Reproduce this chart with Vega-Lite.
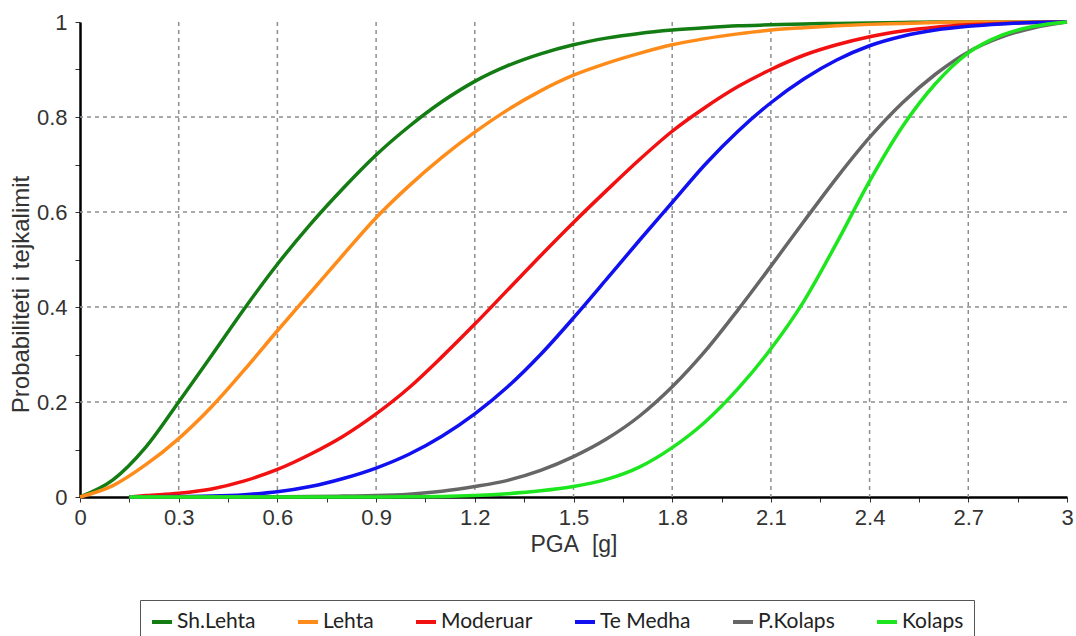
{
  "$schema": "https://vega.github.io/schema/vega-lite/v6.json",
  "width": 987,
  "height": 475,
  "autosize": {"type": "none"},
  "padding": {"left": 80, "top": 22, "right": 9, "bottom": 139},
  "background": "white",
  "config": {"view": {"stroke": null}, "font": "Liberation Sans"},
  "datasets": {
    "gx": [{"pga": 0.3}, {"pga": 0.6}, {"pga": 0.9}, {"pga": 1.2}, {"pga": 1.5}, {"pga": 1.8}, {"pga": 2.1}, {"pga": 2.4}, {"pga": 2.7}],
    "gy": [{"p": 0.2}, {"p": 0.4}, {"p": 0.6}, {"p": 0.8}],
    "curves": [
      {"s": "Sh.Lehta", "pga": 0, "p": 0}, {"s": "Sh.Lehta", "pga": 0.1, "p": 0.036}, {"s": "Sh.Lehta", "pga": 0.2, "p": 0.105}, {"s": "Sh.Lehta", "pga": 0.3, "p": 0.2}, {"s": "Sh.Lehta", "pga": 0.4, "p": 0.298}, {"s": "Sh.Lehta", "pga": 0.5, "p": 0.397}, {"s": "Sh.Lehta", "pga": 0.6, "p": 0.49}, {"s": "Sh.Lehta", "pga": 0.7, "p": 0.574}, {"s": "Sh.Lehta", "pga": 0.8, "p": 0.65}, {"s": "Sh.Lehta", "pga": 0.9, "p": 0.72}, {"s": "Sh.Lehta", "pga": 1.0, "p": 0.78}, {"s": "Sh.Lehta", "pga": 1.1, "p": 0.832}, {"s": "Sh.Lehta", "pga": 1.2, "p": 0.875}, {"s": "Sh.Lehta", "pga": 1.3, "p": 0.908}, {"s": "Sh.Lehta", "pga": 1.4, "p": 0.933}, {"s": "Sh.Lehta", "pga": 1.5, "p": 0.952}, {"s": "Sh.Lehta", "pga": 1.6, "p": 0.966}, {"s": "Sh.Lehta", "pga": 1.7, "p": 0.976}, {"s": "Sh.Lehta", "pga": 1.8, "p": 0.983}, {"s": "Sh.Lehta", "pga": 1.9, "p": 0.988}, {"s": "Sh.Lehta", "pga": 2.0, "p": 0.992}, {"s": "Sh.Lehta", "pga": 2.1, "p": 0.994}, {"s": "Sh.Lehta", "pga": 2.2, "p": 0.996}, {"s": "Sh.Lehta", "pga": 2.3, "p": 0.997}, {"s": "Sh.Lehta", "pga": 2.4, "p": 0.998}, {"s": "Sh.Lehta", "pga": 2.5, "p": 0.999}, {"s": "Sh.Lehta", "pga": 2.6, "p": 1}, {"s": "Sh.Lehta", "pga": 2.8, "p": 1}, {"s": "Sh.Lehta", "pga": 3.0, "p": 1},
      {"s": "Lehta", "pga": 0, "p": 0}, {"s": "Lehta", "pga": 0.1, "p": 0.024}, {"s": "Lehta", "pga": 0.2, "p": 0.068}, {"s": "Lehta", "pga": 0.3, "p": 0.123}, {"s": "Lehta", "pga": 0.4, "p": 0.19}, {"s": "Lehta", "pga": 0.5, "p": 0.268}, {"s": "Lehta", "pga": 0.6, "p": 0.35}, {"s": "Lehta", "pga": 0.7, "p": 0.43}, {"s": "Lehta", "pga": 0.8, "p": 0.51}, {"s": "Lehta", "pga": 0.9, "p": 0.588}, {"s": "Lehta", "pga": 1.0, "p": 0.655}, {"s": "Lehta", "pga": 1.1, "p": 0.715}, {"s": "Lehta", "pga": 1.2, "p": 0.768}, {"s": "Lehta", "pga": 1.3, "p": 0.815}, {"s": "Lehta", "pga": 1.4, "p": 0.855}, {"s": "Lehta", "pga": 1.5, "p": 0.888}, {"s": "Lehta", "pga": 1.6, "p": 0.913}, {"s": "Lehta", "pga": 1.7, "p": 0.934}, {"s": "Lehta", "pga": 1.8, "p": 0.952}, {"s": "Lehta", "pga": 1.9, "p": 0.965}, {"s": "Lehta", "pga": 2.0, "p": 0.975}, {"s": "Lehta", "pga": 2.1, "p": 0.983}, {"s": "Lehta", "pga": 2.2, "p": 0.988}, {"s": "Lehta", "pga": 2.3, "p": 0.992}, {"s": "Lehta", "pga": 2.4, "p": 0.995}, {"s": "Lehta", "pga": 2.5, "p": 0.997}, {"s": "Lehta", "pga": 2.6, "p": 0.999}, {"s": "Lehta", "pga": 2.7, "p": 1}, {"s": "Lehta", "pga": 3.0, "p": 1},
      {"s": "Moderuar", "pga": 0.15, "p": 0}, {"s": "Moderuar", "pga": 0.2, "p": 0.003}, {"s": "Moderuar", "pga": 0.3, "p": 0.008}, {"s": "Moderuar", "pga": 0.4, "p": 0.017}, {"s": "Moderuar", "pga": 0.5, "p": 0.034}, {"s": "Moderuar", "pga": 0.6, "p": 0.058}, {"s": "Moderuar", "pga": 0.7, "p": 0.09}, {"s": "Moderuar", "pga": 0.8, "p": 0.128}, {"s": "Moderuar", "pga": 0.9, "p": 0.175}, {"s": "Moderuar", "pga": 1.0, "p": 0.23}, {"s": "Moderuar", "pga": 1.1, "p": 0.295}, {"s": "Moderuar", "pga": 1.2, "p": 0.364}, {"s": "Moderuar", "pga": 1.3, "p": 0.436}, {"s": "Moderuar", "pga": 1.4, "p": 0.508}, {"s": "Moderuar", "pga": 1.5, "p": 0.578}, {"s": "Moderuar", "pga": 1.6, "p": 0.645}, {"s": "Moderuar", "pga": 1.7, "p": 0.71}, {"s": "Moderuar", "pga": 1.8, "p": 0.77}, {"s": "Moderuar", "pga": 1.9, "p": 0.82}, {"s": "Moderuar", "pga": 2.0, "p": 0.864}, {"s": "Moderuar", "pga": 2.1, "p": 0.9}, {"s": "Moderuar", "pga": 2.2, "p": 0.93}, {"s": "Moderuar", "pga": 2.3, "p": 0.952}, {"s": "Moderuar", "pga": 2.4, "p": 0.969}, {"s": "Moderuar", "pga": 2.5, "p": 0.981}, {"s": "Moderuar", "pga": 2.6, "p": 0.989}, {"s": "Moderuar", "pga": 2.7, "p": 0.994}, {"s": "Moderuar", "pga": 2.8, "p": 0.997}, {"s": "Moderuar", "pga": 2.9, "p": 0.999}, {"s": "Moderuar", "pga": 3.0, "p": 1},
      {"s": "Te Medha", "pga": 0.15, "p": 0}, {"s": "Te Medha", "pga": 0.3, "p": 0.001}, {"s": "Te Medha", "pga": 0.4, "p": 0.002}, {"s": "Te Medha", "pga": 0.5, "p": 0.005}, {"s": "Te Medha", "pga": 0.6, "p": 0.011}, {"s": "Te Medha", "pga": 0.7, "p": 0.022}, {"s": "Te Medha", "pga": 0.8, "p": 0.039}, {"s": "Te Medha", "pga": 0.9, "p": 0.061}, {"s": "Te Medha", "pga": 1.0, "p": 0.09}, {"s": "Te Medha", "pga": 1.1, "p": 0.128}, {"s": "Te Medha", "pga": 1.2, "p": 0.175}, {"s": "Te Medha", "pga": 1.3, "p": 0.232}, {"s": "Te Medha", "pga": 1.4, "p": 0.3}, {"s": "Te Medha", "pga": 1.5, "p": 0.377}, {"s": "Te Medha", "pga": 1.6, "p": 0.458}, {"s": "Te Medha", "pga": 1.7, "p": 0.54}, {"s": "Te Medha", "pga": 1.8, "p": 0.62}, {"s": "Te Medha", "pga": 1.9, "p": 0.7}, {"s": "Te Medha", "pga": 2.0, "p": 0.77}, {"s": "Te Medha", "pga": 2.1, "p": 0.83}, {"s": "Te Medha", "pga": 2.2, "p": 0.88}, {"s": "Te Medha", "pga": 2.3, "p": 0.92}, {"s": "Te Medha", "pga": 2.4, "p": 0.95}, {"s": "Te Medha", "pga": 2.5, "p": 0.97}, {"s": "Te Medha", "pga": 2.6, "p": 0.983}, {"s": "Te Medha", "pga": 2.7, "p": 0.991}, {"s": "Te Medha", "pga": 2.8, "p": 0.996}, {"s": "Te Medha", "pga": 2.9, "p": 0.999}, {"s": "Te Medha", "pga": 3.0, "p": 1},
      {"s": "P.Kolaps", "pga": 0.15, "p": 0}, {"s": "P.Kolaps", "pga": 0.5, "p": 0.0005}, {"s": "P.Kolaps", "pga": 0.7, "p": 0.001}, {"s": "P.Kolaps", "pga": 0.8, "p": 0.002}, {"s": "P.Kolaps", "pga": 0.9, "p": 0.003}, {"s": "P.Kolaps", "pga": 1.0, "p": 0.006}, {"s": "P.Kolaps", "pga": 1.1, "p": 0.012}, {"s": "P.Kolaps", "pga": 1.2, "p": 0.022}, {"s": "P.Kolaps", "pga": 1.3, "p": 0.035}, {"s": "P.Kolaps", "pga": 1.4, "p": 0.056}, {"s": "P.Kolaps", "pga": 1.5, "p": 0.085}, {"s": "P.Kolaps", "pga": 1.6, "p": 0.122}, {"s": "P.Kolaps", "pga": 1.7, "p": 0.17}, {"s": "P.Kolaps", "pga": 1.8, "p": 0.232}, {"s": "P.Kolaps", "pga": 1.9, "p": 0.307}, {"s": "P.Kolaps", "pga": 2.0, "p": 0.394}, {"s": "P.Kolaps", "pga": 2.1, "p": 0.486}, {"s": "P.Kolaps", "pga": 2.2, "p": 0.58}, {"s": "P.Kolaps", "pga": 2.3, "p": 0.672}, {"s": "P.Kolaps", "pga": 2.4, "p": 0.757}, {"s": "P.Kolaps", "pga": 2.5, "p": 0.83}, {"s": "P.Kolaps", "pga": 2.6, "p": 0.89}, {"s": "P.Kolaps", "pga": 2.7, "p": 0.937}, {"s": "P.Kolaps", "pga": 2.8, "p": 0.968}, {"s": "P.Kolaps", "pga": 2.9, "p": 0.988}, {"s": "P.Kolaps", "pga": 3.0, "p": 1},
      {"s": "Kolaps", "pga": 0.15, "p": 0}, {"s": "Kolaps", "pga": 0.9, "p": 0}, {"s": "Kolaps", "pga": 1.0, "p": 0.0005}, {"s": "Kolaps", "pga": 1.1, "p": 0.001}, {"s": "Kolaps", "pga": 1.2, "p": 0.003}, {"s": "Kolaps", "pga": 1.3, "p": 0.007}, {"s": "Kolaps", "pga": 1.4, "p": 0.013}, {"s": "Kolaps", "pga": 1.5, "p": 0.022}, {"s": "Kolaps", "pga": 1.6, "p": 0.037}, {"s": "Kolaps", "pga": 1.7, "p": 0.063}, {"s": "Kolaps", "pga": 1.8, "p": 0.104}, {"s": "Kolaps", "pga": 1.9, "p": 0.158}, {"s": "Kolaps", "pga": 2.0, "p": 0.228}, {"s": "Kolaps", "pga": 2.1, "p": 0.312}, {"s": "Kolaps", "pga": 2.2, "p": 0.412}, {"s": "Kolaps", "pga": 2.3, "p": 0.535}, {"s": "Kolaps", "pga": 2.4, "p": 0.665}, {"s": "Kolaps", "pga": 2.5, "p": 0.78}, {"s": "Kolaps", "pga": 2.6, "p": 0.87}, {"s": "Kolaps", "pga": 2.7, "p": 0.935}, {"s": "Kolaps", "pga": 2.8, "p": 0.972}, {"s": "Kolaps", "pga": 2.9, "p": 0.991}, {"s": "Kolaps", "pga": 3.0, "p": 1}
    ]
  },
  "layer": [
    {
      "data": {"name": "gx"},
      "mark": {"type": "rule", "stroke": "#8f8f8f", "strokeWidth": 1.5, "strokeDash": [4, 4]},
      "encoding": {
        "x": {"field": "pga", "type": "quantitative"}
      }
    },
    {
      "data": {"name": "gy"},
      "mark": {"type": "rule", "stroke": "#8f8f8f", "strokeWidth": 1.5, "strokeDash": [4, 4]},
      "encoding": {
        "y": {"field": "p", "type": "quantitative"}
      }
    },
    {
      "data": {"name": "curves"},
      "mark": {"type": "line", "strokeWidth": 3.5, "interpolate": "monotone"},
      "encoding": {
        "x": {
          "field": "pga", "type": "quantitative",
          "scale": {"domain": [0, 3], "nice": false},
          "axis": {
            "title": "PGA\u00a0\u00a0[g]",
            "values": [0,0.075,0.15,0.225,0.3,0.375,0.45,0.525,0.6,0.675,0.75,0.825,0.9,0.975,1.05,1.125,1.2,1.275,1.35,1.425,1.5,1.575,1.65,1.725,1.8,1.875,1.95,2.025,2.1,2.175,2.25,2.325,2.4,2.475,2.55,2.625,2.7,2.775,2.85,2.925,3],
            "format": "~g",
            "labelExpr": "indexof([0,0.3,0.6,0.9,1.2,1.5,1.8,2.1,2.4,2.7,3], datum.value) >= 0 ? datum.label : ''",
            "labelOverlap": false,
            "labelFlush": false,
            "labelFont": "Liberation Sans", "labelFontSize": 22, "labelColor": "#333333", "labelPadding": 5,
            "grid": false,
            "domainColor": "#000000", "domainWidth": 2.5,
            "tickColor": "#333333", "tickSize": 5, "tickWidth": 1,
            "titleFont": "Liberation Sans", "titleFontSize": 23, "titleFontWeight": "normal", "titleColor": "#333333", "titlePadding": 5
          }
        },
        "y": {
          "field": "p", "type": "quantitative",
          "scale": {"domain": [0, 1], "nice": false},
          "axis": {
            "title": "Probabiliteti i tejkalimit",
            "values": [0,0.05,0.1,0.15,0.2,0.25,0.3,0.35,0.4,0.45,0.5,0.55,0.6,0.65,0.7,0.75,0.8,0.85,0.9,0.95,1],
            "format": "~g",
            "labelExpr": "indexof([0,0.2,0.4,0.6,0.8,1], datum.value) >= 0 ? datum.label : ''",
            "labelOverlap": false,
            "labelFlush": false,
            "labelFont": "Liberation Sans", "labelFontSize": 22, "labelColor": "#333333", "labelPadding": 8,
            "grid": false,
            "domainColor": "#000000", "domainWidth": 2.5,
            "tickColor": "#333333", "tickSize": 5, "tickWidth": 1,
            "titleFont": "Liberation Sans", "titleFontSize": 24, "titleFontWeight": "normal", "titleColor": "#333333", "titlePadding": 3,
            "titleY": 272
          }
        },
        "color": {
          "field": "s", "type": "nominal",
          "scale": {
            "domain": ["Sh.Lehta", "Lehta", "Moderuar", "Te Medha", "P.Kolaps", "Kolaps"],
            "range": ["#137c13", "#ff8c1a", "#f21010", "#1010f0", "#666666", "#1ee61e"]
          },
          "legend": {
            "title": null,
            "orient": "none",
            "legendX": 60,
            "legendY": 578,
            "direction": "horizontal",
            "columns": 6,
            "columnPadding": 34,
            "symbolType": "stroke",
            "symbolStrokeWidth": 4,
            "symbolSize": 400,
            "labelFont": "Lato",
            "labelFontSize": 21,
            "labelColor": "#222222",
            "labelOffset": 3,
            "strokeColor": "#555555",
            "fillColor": "#ffffff",
            "padding": 10
          }
        }
      }
    }
  ]
}
